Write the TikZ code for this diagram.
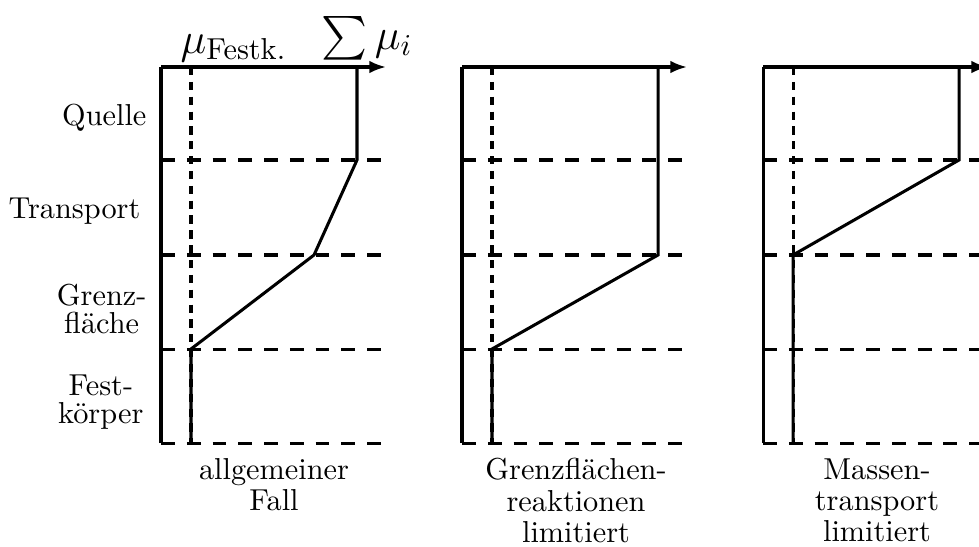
\documentclass[tikz,border=0pt]{standalone}
\usepackage{amsmath}
\usetikzlibrary{arrows.meta}
\begin{document}
\begin{tikzpicture}[x=0.33pt,y=-0.33pt,
  solidline/.style={line width=1pt,line join=miter},
  hdash/.style={line width=1pt,dash pattern=on 4.6pt off 3.9pt},
  vdash/.style={line width=1pt,dash pattern=on 2.7pt off 2.2pt},
  axisarrow/.style={line width=1pt,-{Latex[length=5.5pt,width=4.2pt]}},
  rowlabel/.style={align=center,inner sep=0pt,font=\fontsize{10}{9}\selectfont},
  caption/.style={anchor=north,align=center,inner sep=0pt,font=\fontsize{10}{10.3}\selectfont},
  mathlabel/.style={anchor=base west,inner sep=0pt,font=\Large}]
\useasboundingbox (0,0) rectangle (979,546);

% row labels
\node[rowlabel,anchor=base east] (quelle) at (147,125) {Quelle};
\node[rowlabel,anchor=base east] (transport) at (141,218) {Transport};
\node[rowlabel,anchor=east] (grenz) at (147,309) {Grenz-\\fläche};
\node[rowlabel,anchor=east] (fest) at (144,402) {Fest-\\körper};

% math labels
\node[mathlabel] (mufest) at (180,53) {$\mu_{\mathrm{Festk.}}$};
\node[mathlabel] (summu) at (321,49) {$\sum\mu_i$};

% panels
\foreach \o/\name in {0/a,301/b,602/c}{
  \begin{scope}[xshift=\o*0.33pt]
    \coordinate (\name top) at (161,67);
    \coordinate (\name bot) at (161,443);
    \draw[hdash] (161,160) -- (388,160);
    \draw[hdash] (161,255) -- (388,255);
    \draw[hdash] (161,349) -- (388,349);
    \draw[hdash] (161,443) -- (388,443);
    \draw[vdash] (191,67) -- (191,443);
    \draw[solidline] (\name bot) -- (\name top);
    \draw[axisarrow] (\name top) -- (386,67);
  \end{scope}
}

% curves
\draw[solidline] (357,67) -- (357,160) -- (314,255) -- (191,349) -- (191,443);
\draw[solidline] (658,67) -- (658,255) -- (492,349) -- (492,443);
\draw[solidline] (959,67) -- (959,160) -- (793,255) -- (793,443);

% captions
\node[caption] (capa) at (274,458) {allgemeiner\\Fall};
\node[caption] (capb) at (576,458) {Grenzflächen-\\reaktionen\\limitiert};
\node[caption] (capc) at (877,458) {Massen-\\transport\\limitiert};
\end{tikzpicture}
\end{document}
